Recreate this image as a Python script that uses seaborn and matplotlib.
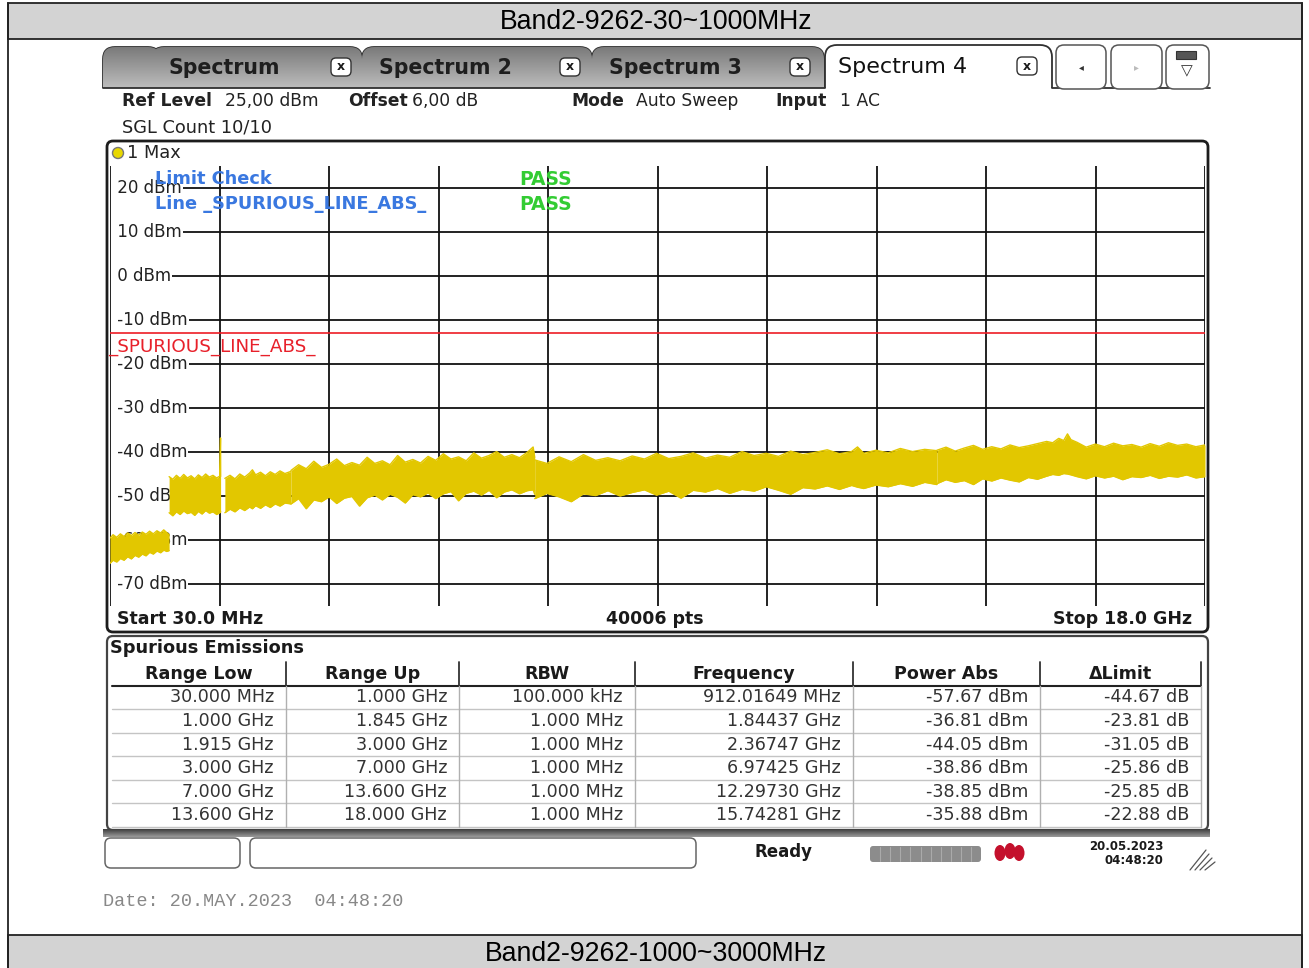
import numpy as np
import pandas as pd
import matplotlib
matplotlib.use("Agg")
import matplotlib.pyplot as plt
import seaborn as sns
from matplotlib.patches import FancyBboxPatch, Rectangle, Circle, Ellipse

W, H = 1309, 968

# trace envelope (MHz, dBm), one block per sweep range
seg1_f = [30, 80, 140, 200, 260, 320, 380, 440, 500, 560, 620, 680, 740, 800, 860, 912, 960, 1000]
seg1_up = [-59.6, -58.8, -59.4, -58.6, -59.2, -58.4, -59.0, -58.3, -58.9, -58.2, -58.7, -58.0, -58.6, -57.9, -58.4, -57.7, -58.3, -58.8]
seg1_lo = [-65.3, -64.6, -65.0, -64.2, -64.6, -63.8, -64.3, -63.5, -63.9, -63.2, -63.6, -62.8, -63.2, -62.5, -62.9, -62.3, -62.6, -62.4]

seg2_f = [1000, 1060, 1120, 1180, 1240, 1300, 1360, 1420, 1480, 1540, 1600, 1660, 1720, 1780, 1830, 1844, 1845]
seg2_up = [-45.6, -46.2, -45.3, -46.0, -45.1, -45.9, -45.4, -46.1, -45.2, -45.8, -45.0, -45.7, -45.3, -45.9, -45.5, -36.81, -45.6]
seg2_lo = [-53.8, -54.5, -53.6, -54.2, -53.4, -54.0, -53.7, -54.4, -53.5, -54.1, -53.3, -53.9, -53.6, -54.2, -53.8, -53.5, -53.7]

seg3_f = [1915, 2000, 2080, 2160, 2240, 2320, 2367, 2420, 2500, 2580, 2660, 2740, 2820, 2900, 3000]
seg3_up = [-46.0, -45.3, -46.1, -45.0, -45.7, -44.8, -44.05, -45.2, -44.6, -45.4, -44.5, -45.1, -44.3, -44.9, -44.4]
seg3_lo = [-53.8, -53.0, -53.6, -52.7, -53.3, -52.5, -52.9, -52.2, -52.8, -52.0, -52.6, -51.8, -52.3, -51.6, -51.8]

seg4_f = [3000, 3125, 3250, 3375, 3500, 3625, 3750, 3875, 4000, 4125, 4250, 4375, 4500, 4625, 4750, 4875, 5000,
          5125, 5250, 5375, 5500, 5625, 5750, 5875, 6000, 6125, 6250, 6375, 6500, 6625, 6750, 6875, 6974, 7000]
seg4_up = [-44.2, -42.9, -43.8, -42.1, -43.5, -42.8, -41.6, -43.1, -42.4, -43.0, -41.2, -42.6, -42.0, -42.9, -40.8, -42.3, -41.7,
           -42.5, -41.0, -41.9, -40.4, -41.6, -41.1, -42.0, -40.2, -41.4, -40.8, -39.9, -41.2, -40.6, -41.3, -40.1, -38.86, -41.2]
seg4_lo = [-51.8, -50.6, -52.9, -50.9, -51.3, -50.2, -51.7, -50.5, -50.1, -52.3, -50.4, -49.8, -50.9, -49.6, -50.3, -51.6, -49.7,
           -50.2, -49.3, -50.6, -49.5, -49.0, -51.1, -49.4, -48.9, -49.8, -48.7, -50.4, -49.1, -48.6, -49.5, -48.8, -48.6, -49.6]

seg5_f = [7000, 7200, 7400, 7600, 7800, 8000, 8200, 8400, 8600, 8800, 9000, 9200, 9400, 9600, 9800, 10000, 10200, 10400,
          10600, 10800, 11000, 11200, 11400, 11600, 11800, 12000, 12200, 12297, 12400, 12600, 12800, 13000, 13200, 13400, 13600]
seg5_up = [-41.8, -42.6, -41.1, -42.2, -40.6, -41.9, -41.3, -42.0, -40.9, -41.6, -40.3, -41.5, -41.0, -40.2, -41.4, -40.7, -41.2, -39.9,
           -40.8, -40.3, -41.0, -39.8, -40.6, -40.1, -39.5, -40.4, -39.9, -38.85, -40.3, -39.6, -40.2, -39.2, -39.9, -39.4, -39.7]
seg5_lo = [-50.6, -49.4, -50.2, -51.3, -49.5, -49.9, -48.8, -50.0, -49.2, -48.6, -49.8, -48.9, -50.5, -48.7, -49.1, -48.3, -49.4, -48.5,
           -48.9, -47.9, -48.7, -49.6, -48.1, -48.4, -47.7, -48.5, -47.6, -48.0, -48.3, -47.5, -47.9, -47.2, -47.8, -46.9, -47.4]

seg6_f = [13600, 13750, 13900, 14050, 14200, 14350, 14500, 14650, 14800, 14950, 15100, 15250, 15400, 15500, 15600, 15680, 15743,
          15800, 15900, 16050, 16200, 16350, 16500, 16650, 16800, 16950, 17100, 17250, 17400, 17550, 17700, 17850, 18000]
seg6_up = [-39.6, -38.9, -39.8, -39.1, -38.5, -39.4, -38.8, -39.3, -38.4, -39.0, -38.6, -38.1, -37.6, -37.9, -36.9, -37.4, -35.88,
           -37.2, -37.8, -38.9, -38.2, -38.8, -38.0, -38.6, -38.3, -38.9, -38.1, -38.7, -37.9, -38.5, -38.2, -38.8, -38.4]
seg6_lo = [-47.2, -46.3, -46.9, -46.5, -47.4, -46.1, -46.6, -45.9, -46.4, -46.8, -45.8, -46.2, -45.5, -45.1, -45.3, -44.9, -45.0,
           -45.2, -45.6, -46.1, -45.4, -45.9, -45.5, -46.3, -45.6, -45.8, -45.3, -46.0, -45.5, -45.7, -45.2, -45.9, -45.6]

limit_dbm = -13.0
f_start, f_stop = 30, 18000
ref_level, y_bottom = 25, -75
y_ticks = [20, 10, 0, -10, -20, -30, -40, -50, -60, -70]
y_labels = ["20 dBm", "10 dBm", "0 dBm", "-10 dBm", "-20 dBm", "-30 dBm", "-40 dBm", "-50 dBm", "-60 dBm", "-70 dBm"]

tab_names = ["Spectrum", "Spectrum 2", "Spectrum 3", "Spectrum 4"]

table_cols = ["Range Low", "Range Up", "RBW", "Frequency", "Power Abs", "\u0394Limit"]
range_low = ["30.000 MHz", "1.000 GHz", "1.915 GHz", "3.000 GHz", "7.000 GHz", "13.600 GHz"]
range_up = ["1.000 GHz", "1.845 GHz", "3.000 GHz", "7.000 GHz", "13.600 GHz", "18.000 GHz"]
rbw = ["100.000 kHz", "1.000 MHz", "1.000 MHz", "1.000 MHz", "1.000 MHz", "1.000 MHz"]
peak_freq = ["912.01649 MHz", "1.84437 GHz", "2.36747 GHz", "6.97425 GHz", "12.29730 GHz", "15.74281 GHz"]
power_abs = [-57.67, -36.81, -44.05, -38.86, -38.85, -35.88]
delta_limit = [-44.67, -23.81, -31.05, -25.86, -25.85, -22.88]

segs = [(seg1_f, seg1_up, seg1_lo), (seg2_f, seg2_up, seg2_lo), (seg3_f, seg3_up, seg3_lo),
        (seg4_f, seg4_up, seg4_lo), (seg5_f, seg5_up, seg5_lo), (seg6_f, seg6_up, seg6_lo)]
trace = pd.concat([pd.DataFrame({"freq": f, "upper": u, "lower": l, "seg": i})
                   for i, (f, u, l) in enumerate(segs)], ignore_index=True)

sns.set_theme(style="white")
plt.rcParams["font.family"] = ["DejaVu Sans"]

fig = plt.figure(figsize=(W / 100, H / 100), dpi=100)
bg = fig.add_axes([0, 0, 1, 1])
bg.set_xlim(0, W)
bg.set_ylim(H, 0)
bg.axis("off")


def txt(x, y, s, size=11, weight="normal", color="#1a1a1a", ha="left", va="center", **kw):
    bg.text(x, y, s, fontsize=size, fontweight=weight, color=color, ha=ha, va=va, **kw)


def rbox(x0, y0, x1, y1, r=6, fc="white", ec="#333333", lw=1.2, z=1):
    p = FancyBboxPatch((x0, y0), x1 - x0, y1 - y0, boxstyle=f"round,pad=0,rounding_size={r}",
                       fc=fc, ec=ec, lw=lw, zorder=z, mutation_aspect=1)
    bg.add_patch(p)
    return p


def vgrad(top, bottom, n=64):
    v = np.linspace(top, bottom, n)
    return np.repeat(v[:, None, None], 3, axis=2).reshape(n, 1, 3)


# page frame and title bands
bg.add_patch(Rectangle((8, 3), 1294, 36, fc="#d3d3d3", ec="#222222", lw=1.3))
bg.add_patch(Rectangle((8, 935), 1294, 40, fc="#d3d3d3", ec="#222222", lw=1.3))
bg.plot([8, 8], [3, 968], color="#222222", lw=1.3)
bg.plot([1302, 1302], [3, 968], color="#222222", lw=1.3)
txt(656, 22, "Band2-9262-30~1000MHz", size=19.2, color="black", ha="center", family="Liberation Sans")
txt(656, 954, "Band2-9262-1000~3000MHz", size=19.2, color="black", ha="center", family="Liberation Sans")

# tabs
tab_x = [(103, 160), (152, 362), (362, 592), (592, 824)]
for x0, x1 in tab_x:
    p = rbox(x0, 47, x1, 100, r=12, fc="#a6a6a6", ec="#303030", lw=1.3, z=2)
    im = bg.imshow(vgrad(0.48, 0.74), extent=(x0, x1, 88, 47), aspect="auto", zorder=2.1)
    im.set_clip_path(p)
bg.add_patch(Rectangle((100, 88), 1112, 14, fc="white", ec="none", zorder=2.5))
bg.plot([103, 825], [88, 88], color="#303030", lw=1.3, zorder=2.6)
rbox(825, 45, 1052, 100, r=12, fc="white", ec="#303030", lw=1.3, z=2.2)
bg.add_patch(Rectangle((826, 88), 225, 14, fc="white", ec="none", zorder=2.7))
bg.plot([1052, 1210], [88, 88], color="#303030", lw=1.3, zorder=2.6)
for (x0, x1), name, xc in zip(tab_x[1:], tab_names[:3], [341, 570, 800]):
    txt(x0 + 17, 68, name, size=14.8, weight="bold", color="#1e1e1e", zorder=3)
    rbox(xc - 10, 58, xc + 10, 76, r=5, fc="white", ec="#333333", lw=1, z=3)
    txt(xc, 67, "x", size=9, weight="bold", ha="center", zorder=3.1)
txt(838, 67, tab_names[3], size=16, color="#111111", zorder=3)
rbox(1017, 57, 1037, 75, r=5, fc="white", ec="#333333", lw=1, z=3)
txt(1027, 66, "x", size=9, weight="bold", ha="center", zorder=3.1)
for x0, x1, s in [(1056, 1106, "\u25c2"), (1111, 1162, "\u25b8"), (1166, 1209, "")]:
    rbox(x0, 45, x1, 89, r=8, fc="white", ec="#555555", lw=1.1, z=3)
    txt((x0 + x1) / 2, 67, s, size=7, color="#333333" if s == "\u25c2" else "#bbbbbb", ha="center", zorder=3.2)
bg.add_patch(Rectangle((1176, 51), 20, 8, fc="#555555", ec="#333333", lw=0.8, zorder=3.3))
txt(1187, 71, "\u25bd", size=11, color="#333333", ha="center", zorder=3.3)

# settings line
for x, s, w in [(122, "Ref Level", "bold"), (225, "25,00 dBm", "normal"), (348, "Offset", "bold"),
                (412, "6,00 dB", "normal"), (571, "Mode", "bold"), (636, "Auto Sweep", "normal"),
                (775, "Input", "bold"), (840, "1 AC", "normal")]:
    txt(x, 101, s, size=12.3, weight=w, color="#222222", zorder=3)
txt(122, 127, "SGL Count 10/10", size=12.8, color="#222222")

# diagram frame
rbox(107, 141, 1208, 632, r=6, fc="white", ec="#1c1c1c", lw=2, z=1)
bg.add_patch(Circle((118, 153), 5.5, fc="#e8d800", ec="#777777", lw=1, zorder=2))
txt(127, 153, "1 Max", size=12.8, color="#222222")
txt(117, 619, "Start 30.0 MHz", size=12.5, weight="bold")
txt(655, 619, "40006 pts", size=12.5, weight="bold", ha="center")
txt(1192, 619, "Stop 18.0 GHz", size=12.5, weight="bold", ha="right")

# spectrum trace
ax = fig.add_axes([110 / W, 1 - 606 / H, 1095 / W, 440 / H])
ax.set_xlim(f_start, f_stop)
ax.set_ylim(y_bottom, ref_level)
ax.axis("off")
for k, gx in enumerate(np.linspace(f_start, f_stop, 11)):
    ax.axvline(gx, color="#111111", lw=1.3, zorder=2.2 if k == 0 else 1)
for gy in y_ticks:
    ax.axhline(gy, color="#111111", lw=1.3, zorder=1)
for gy, lab in zip(y_ticks, y_labels):
    ax.text(0.0015, gy, " " + lab, transform=ax.get_yaxis_transform(), fontsize=12, color="#222222",
            va="center", ha="left", zorder=2,
            bbox=dict(boxstyle="square,pad=0.08", fc="white", ec="none"))
sns.lineplot(x=[f_start, f_stop], y=[limit_dbm, limit_dbm], color="#ee1c25", lw=1.2, ax=ax, zorder=2.5)
ax.text(0, limit_dbm - 3.1, "_SPURIOUS_LINE_ABS_", transform=ax.transData, fontsize=13.2,
        color="#e8202a", va="center", ha="left", zorder=2.6)
ax.text(45 / 1095, 0.970, "Limit Check", transform=ax.transAxes, fontsize=12.8, weight="bold",
        color="#3a78e0", va="center", zorder=2.6)
ax.text(45 / 1095, 0.913, "Line _SPURIOUS_LINE_ABS_", transform=ax.transAxes, fontsize=12.8,
        weight="bold", color="#3a78e0", va="center", zorder=2.6)
for yy in [0.970, 0.913]:
    ax.text(409 / 1095, yy, "PASS", transform=ax.transAxes, fontsize=13.5, weight="bold",
            color="#33cc33", va="center", zorder=2.6)
yellow = "#e2c700"
for i, g in trace.groupby("seg"):
    ax.fill_between(g["freq"], g["lower"], g["upper"], color=yellow, lw=0, zorder=3)
sns.lineplot(data=trace, x="freq", y="upper", units="seg", estimator=None, color=yellow, lw=1,
             ax=ax, zorder=3.1, legend=False)
sns.lineplot(data=trace, x="freq", y="lower", units="seg", estimator=None, color=yellow, lw=1,
             ax=ax, zorder=3.1, legend=False)
ax.set_xlim(f_start, f_stop)
ax.set_ylim(y_bottom, ref_level)

# spurious emissions table
rbox(107, 636, 1208, 830, r=6, fc="white", ec="#444444", lw=1.6, z=1)
txt(110, 648, "Spurious Emissions", size=12.8, weight="bold")
col_edges = [112, 286, 459, 635, 853, 1040, 1201]
row_y = [697, 721, 745, 768, 792, 815]
bg.plot([112, 1201], [686, 686], color="#222222", lw=1.5, zorder=2)
for ry in [709, 733, 756, 780, 803, 827]:
    bg.plot([112, 1201], [ry, ry], color="#c4c4c4", lw=1, zorder=2)
for cx in col_edges[1:]:
    bg.plot([cx, cx], [662, 686], color="#333333", lw=1.3, zorder=2)
    bg.plot([cx, cx], [686, 827], color="#b0b0b0", lw=1, zorder=2)
for j, name in enumerate(table_cols):
    txt((col_edges[j] + col_edges[j + 1]) / 2, 674, name, size=12.6, weight="bold", ha="center")
cells = [range_low, range_up, rbw, peak_freq,
         [f"{v:.2f} dBm" for v in power_abs], [f"{v:.2f} dB" for v in delta_limit]]
for j, col in enumerate(cells):
    for ry, s in zip(row_y, col):
        txt(col_edges[j + 1] - 12, ry, s, size=12.6, color="#333333", ha="right")

# status bar
bg.imshow(vgrad(0.25, 0.6, 16), extent=(103, 1210, 837, 829), aspect="auto", zorder=2)
rbox(105, 838, 240, 868, r=6, fc="white", ec="#666666", lw=1.1)
rbox(250, 838, 696, 868, r=6, fc="white", ec="#666666", lw=1.1)
txt(784, 852, "Ready", size=12, weight="bold", ha="center")
rbox(870, 846, 981, 862, r=3, fc="#8c8c8c", ec="none", lw=0)
for k in range(1, 11):
    bg.plot([870 + k * 10.1, 870 + k * 10.1], [847, 861], color="#aaaaaa", lw=0.8, zorder=2)
for cx, cy in [(1000, 853), (1010, 851), (1019, 853)]:
    bg.add_patch(Ellipse((cx, cy), 11, 16, fc="#c4102c", ec="none", zorder=2))
txt(1163, 846, "20.05.2023", size=8.5, weight="bold", ha="right")
txt(1163, 861, "04:48:20", size=8.5, weight="bold", ha="right")
for k in range(4):
    bg.plot([1190 + k * 5, 1206 + k * 3], [870, 850 + k * 4], color="#555555", lw=0.9)

txt(103, 902, "Date: 20.MAY.2023  04:48:20", size=13.3, color="#888888", family="Liberation Mono")

fig.savefig("out.png", dpi=100)
